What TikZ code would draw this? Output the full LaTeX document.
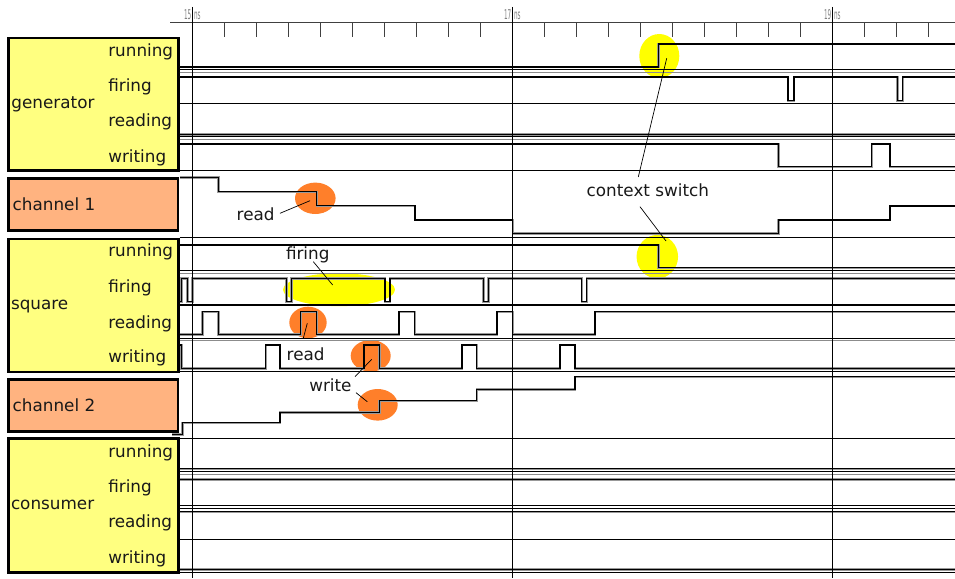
\documentclass[tikz,border=0pt]{standalone}
\usepackage{fontspec}
\setmainfont{DejaVu Sans}
\usetikzlibrary{shapes.geometric}
\definecolor{modyellow}{HTML}{FFFF80}
\definecolor{chanorange}{HTML}{FFB380}
\definecolor{hlyellow}{HTML}{FFFF00}
\definecolor{hlorange}{HTML}{FF7F2A}
\begin{document}
\begin{tikzpicture}[x=1pt,y=-1pt,
  modbox/.style={draw=black, line width=2.6pt, fill=modyellow, rectangle, inner sep=0pt, outer sep=0pt, anchor=north west},
  chanbox/.style={modbox, fill=chanorange},
  lbl/.style={font=\fontsize{16.8}{18}\selectfont, inner sep=0pt, outer sep=0pt, text=black!90},
  wave/.style={black, line width=1.2pt, preaction={draw=black!40, line width=2.4pt}},
  sepk/.style={black, line width=1.5pt},
  sept/.style={black, line width=0.9pt},
  sepg/.style={black!45, line width=1pt},
  gridline/.style={black, line width=0.9pt},
  rtick/.style={black!75, line width=1pt},
  rlbl/.style={font=\fontsize{13.5}{13.5}\selectfont, text=black!50, inner sep=0pt, xscale=0.42},
  hly/.style={ellipse, fill=hlyellow, inner sep=0pt, draw=none},
  hlo/.style={ellipse, fill=hlorange, inner sep=0pt, draw=none},
  pointer/.style={black, line width=0.7pt},
]
\useasboundingbox (0,0) rectangle (955,578);
\fill[white] (0,0) rectangle (955,578);

% ---------- module boxes ----------
\node[modbox, minimum width=170pt, minimum height=132.5pt] (gen) at (8.3,38) {};
\node[chanbox, minimum width=169.5pt, minimum height=51.8pt] (ch1) at (8.5,178.7) {};
\node[modbox, minimum width=169.8pt, minimum height=133pt] (sq) at (8.5,239) {};
\node[chanbox, minimum width=169.5pt, minimum height=51.8pt] (ch2) at (8.5,379.5) {};
\node[modbox, minimum width=169.8pt, minimum height=134.2pt] (con) at (8.7,438.3) {};

% ---------- highlights ----------
\node[hly, minimum width=40pt, minimum height=44pt] (hlgen) at (659.3,56) {};
\node[hly, minimum width=41.5pt, minimum height=43.5pt] (hlsq) at (657.3,256.7) {};
\node[hly, minimum width=112pt, minimum height=33pt] (hlfire) at (339,289.7) {};
\node[hlo, minimum width=40.6pt, minimum height=31.4pt] (hlrd1) at (315.3,198.3) {};
\node[hlo, minimum width=37.4pt, minimum height=31.6pt] (hlrd2) at (308,322.5) {};
\node[hlo, minimum width=40pt, minimum height=31.6pt] (hlwr1) at (370.7,355.8) {};
\node[hlo, minimum width=40pt, minimum height=31.6pt] (hlwr2) at (377.7,404.8) {};

% ---------- separators ----------
% generator
\draw[sept] (179.5,69.5) -- (955,69.5);
\draw[sepg] (179.5,72) -- (955,72);
\draw[sepk] (179.5,103.5) -- (955,103.5);
\draw[sept] (179.5,136.7) -- (955,136.7);
\draw[sepg] (179.5,139.2) -- (955,139.2);
\draw[sepk] (179.5,170.7) -- (955,170.7);
% square
\draw[sepk] (179.5,237.7) -- (955,237.7);
\draw[sept] (179.5,270.5) -- (955,270.5);
\draw[sepg] (179.5,273) -- (955,273);
\draw[sepk] (179.5,305) -- (955,305);
\draw[sept] (179.5,338) -- (955,338);
\draw[sepg] (179.5,340.3) -- (955,340.3);
\draw[sepk] (179.5,371.7) -- (955,371.7);
% consumer
\draw[sepk] (179.5,438.3) -- (955,438.3);
\draw[sept] (179.5,471) -- (955,471);
\draw[sepg] (179.5,474.5) -- (955,474.5);
\draw[sepk] (179.5,505.5) -- (955,505.5);
\draw[sept] (179.5,508.5) -- (955,508.5);
\draw[sept] (179.5,539.3) -- (955,539.3);
\draw[sepk] (179.5,572.5) -- (955,572.5);

% ---------- waveforms ----------
% generator
\draw[wave] (179.5,67) -- (658.3,67) -- (658.3,44) -- (955,44);
\draw[wave] (179.5,77) -- (788,77) -- (788,100.7) -- (794,100.7) -- (794,77)
  -- (897.3,77) -- (897.3,100.7) -- (902.7,100.7) -- (902.7,77) -- (955,77);
\draw[wave] (179.5,134.3) -- (955,134.3);
\draw[wave] (179.5,144) -- (778.3,144) -- (778.3,166.7) -- (871.7,166.7) -- (871.7,144)
  -- (890,144) -- (890,166.7) -- (955,166.7);
% channel 1
\draw[wave] (179.5,177.3) -- (218.3,177.3) -- (218.3,191.7) -- (316.7,191.7) -- (316.7,205.7)
  -- (415,205.7) -- (415,220) -- (512.7,220) -- (512.7,233.3) -- (778.3,233.3) -- (778.3,220)
  -- (890,220) -- (890,206) -- (955,206);
% square
\draw[wave] (179.5,245) -- (658.3,245) -- (658.3,267.7) -- (955,267.7);
\draw[wave] (179.5,301.7) -- (181.5,301.7) -- (181.5,278.3) -- (187.5,278.3) -- (187.5,301.7)
  -- (192.5,301.7) -- (192.5,278.3) -- (286.5,278.3) -- (286.5,301.7) -- (291.5,301.7)
  -- (291.5,278.3) -- (385,278.3) -- (385,301.7) -- (390,301.7) -- (390,278.3)
  -- (483.5,278.3) -- (483.5,301.7) -- (488.5,301.7) -- (488.5,278.3) -- (581.7,278.3)
  -- (581.7,301.7) -- (586.7,301.7) -- (586.7,278.3) -- (955,278.3);
\draw[wave] (179.5,334.3) -- (202.5,334.3) -- (202.5,311.7) -- (218.3,311.7) -- (218.3,334.3)
  -- (300.7,334.3) -- (300.7,311.7) -- (316.7,311.7) -- (316.7,334.3) -- (399,334.3)
  -- (399,311.7) -- (414.7,311.7) -- (414.7,334.3) -- (497,334.3) -- (497,311.7)
  -- (512.7,311.7) -- (512.7,334.3) -- (595,334.3) -- (595,311.7) -- (955,311.7);
\draw[wave] (179.5,345) -- (181.5,345) -- (181.5,368.3) -- (265.7,368.3) -- (265.7,345)
  -- (280,345) -- (280,368.3) -- (364,368.3) -- (364,345) -- (379.3,345) -- (379.3,368.3)
  -- (462,368.3) -- (462,345) -- (476.7,345) -- (476.7,368.3) -- (560,368.3) -- (560,345)
  -- (575,345) -- (575,368.3) -- (955,368.3);
% channel 2
\draw[wave] (172,434.5) -- (182.5,434.5) -- (182.5,422.7) -- (280,422.7) -- (280,412.3)
  -- (379.3,412.3) -- (379.3,400.7) -- (476.7,400.7) -- (476.7,389.3) -- (575,389.3)
  -- (575,376.7) -- (955,376.7);
% consumer
\draw[wave] (179.5,468.8) -- (955,468.8);
\draw[wave] (179.5,479.5) -- (955,479.5);
\draw[wave] (179.5,511.8) -- (955,511.8);
\draw[wave] (179.5,569.5) -- (955,569.5);

% ---------- time grid and ruler ----------
\draw[rtick] (170,22.3) -- (955,22.3);
\foreach \k in {1,...,23}{
  \draw[rtick] ({192.5+32*\k},22.3) -- ({192.5+32*\k},37);
}
\draw[gridline] (192.5,7) -- (192.5,578);
\draw[gridline] (512.5,7) -- (512.5,578);
\draw[gridline] (832.5,7) -- (832.5,578);
\node[rlbl, anchor=east] (t1a) at (191.3,15) {15};
\node[rlbl, anchor=west] (t1b) at (194,15.5) {ns};
\node[rlbl, anchor=east] (t2a) at (511.3,15) {17};
\node[rlbl, anchor=west] (t2b) at (514,15.5) {ns};
\node[rlbl, anchor=east] (t3a) at (831.3,15) {19};
\node[rlbl, anchor=west] (t3b) at (834,15.5) {ns};

% ---------- box labels ----------
\node[lbl, anchor=base west] (genname) at (11.5,108.3) {generator};
\node[lbl, anchor=base west] (genrun) at (108.3,56.7) {running};
\node[lbl, anchor=base west] (genfir) at (108.3,92) {firing};
\node[lbl, anchor=base west] (genrea) at (108.3,126.7) {reading};
\node[lbl, anchor=base west] (genwri) at (108.3,162.7) {writing};
\node[lbl, anchor=base west] (ch1name) at (12.7,210.7) {channel 1};
\node[lbl, anchor=base west] (sqname) at (11,309.3) {square};
\node[lbl, anchor=base west] (sqrun) at (108.3,256.5) {running};
\node[lbl, anchor=base west] (sqfir) at (108.3,292.3) {firing};
\node[lbl, anchor=base west] (sqrea) at (108.3,328.3) {reading};
\node[lbl, anchor=base west] (sqwri) at (108.3,362.7) {writing};
\node[lbl, anchor=base west] (ch2name) at (12.7,411.7) {channel 2};
\node[lbl, anchor=base west] (conname) at (11,509.3) {consumer};
\node[lbl, anchor=base west] (conrun) at (108.3,457) {running};
\node[lbl, anchor=base west] (confir) at (108.3,492.5) {firing};
\node[lbl, anchor=base west] (conrea) at (108.3,527.7) {reading};
\node[lbl, anchor=base west] (conwri) at (108.3,563.7) {writing};

% ---------- annotations ----------
\node[lbl, anchor=base west] (lread1) at (236.7,220) {read};
\node[lbl, anchor=base west] (lfire) at (286,259) {firing};
\node[lbl, anchor=base west] (lread2) at (286.7,360) {read};
\node[lbl, anchor=base west] (lwrite) at (309.3,391.7) {write};
\node[lbl, anchor=base west] (lctx) at (586.7,196.7) {context switch};

\coordinate (pr1a) at (280,213.3);   \coordinate (pr1b) at (310,200.7);
\coordinate (pfa) at (313.3,261.7);  \coordinate (pfb) at (332.7,285);
\coordinate (pr2a) at (303.3,338.3); \coordinate (pr2b) at (307.3,323.3);
\coordinate (pw1a) at (355,376.7);   \coordinate (pw1b) at (371.7,359.3);
\coordinate (pw2a) at (356,392.7);   \coordinate (pw2b) at (367.3,401.7);
\coordinate (pc1a) at (638.3,177);   \coordinate (pc1b) at (666.7,58.3);
\coordinate (pc2a) at (640,206.7);   \coordinate (pc2b) at (666,241);

\draw[pointer] (pr1a) -- (pr1b);
\draw[pointer] (pfa) -- (pfb);
\draw[pointer] (pr2a) -- (pr2b);
\draw[pointer] (pw1a) -- (pw1b);
\draw[pointer] (pw2a) -- (pw2b);
\draw[pointer] (pc1a) -- (pc1b);
\draw[pointer] (pc2a) -- (pc2b);
\end{tikzpicture}
\end{document}
